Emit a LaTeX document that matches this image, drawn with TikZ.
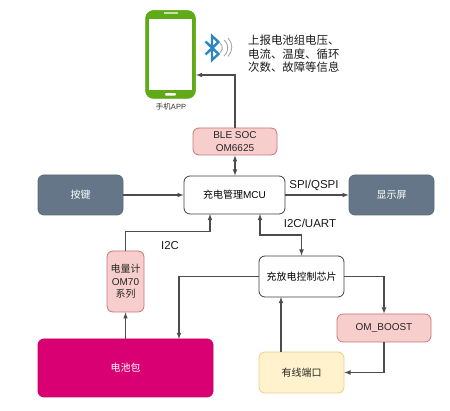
\documentclass[tikz,border=0pt]{standalone}
\usepackage{fontspec}
\setmainfont{Liberation Sans}
\newfontfamily\cjk{Noto Sans CJK SC}
\definecolor{slatefill}{HTML}{647687}
\definecolor{slateline}{HTML}{5A6B7B}
\definecolor{redfill}{HTML}{F8CECC}
\definecolor{redline}{HTML}{B85450}
\definecolor{batfill}{HTML}{D80073}
\definecolor{batline}{HTML}{C4006A}
\definecolor{yelfill}{HTML}{FFF2CC}
\definecolor{yelline}{HTML}{E6D08A}
\definecolor{phonegreen}{HTML}{60A917}
\definecolor{btblue}{HTML}{2E86C1}
\tikzset{
    block/.style={draw, rounded corners=6pt, line width=0.8pt, align=center, inner sep=0pt,
        font=\fontsize{10}{12.5}\selectfont},
    slateblock/.style={block, draw=slateline, fill=slatefill, text=white, minimum width=85pt, minimum height=40pt},
    mcublock/.style={block, draw=black!75, fill=white, minimum width=85pt, minimum height=40pt},
    redblock/.style={block, draw=redline!80, fill=redfill, text=black!85},
    flow/.style={draw=black!70, line width=1.1pt, >=latex},
    biglabel/.style={font=\fontsize{11.5}{13.5}\selectfont, text=black!90, inner sep=0pt}
}
\begin{document}
\begin{tikzpicture}[x=1pt, y=-1pt]
    \useasboundingbox (0,0) rectangle (450,411);

    % phone
    \node[draw=phonegreen, fill=phonegreen, rounded corners=8pt, line width=0.5pt, minimum width=50pt, minimum height=88pt, inner sep=0pt] (phone) at (170.5,54.5) {};
    \node[fill=white, minimum width=43pt, minimum height=71pt, inner sep=0pt] (screen) at (170,54.5) {};
    \node[fill=white, minimum width=11pt, minimum height=2.5pt, inner sep=0pt, rounded corners=1pt] (homekey) at (170.5,94.5) {};
    \node[fill=white!65!phonegreen, minimum width=14pt, minimum height=1.2pt, inner sep=0pt] (speaker) at (170.5,13) {};
    \node[font=\fontsize{7.5}{9}\selectfont, text=black!80, inner sep=0pt] (phonename) at (171,107) {{\cjk 手机}APP};

    % bluetooth mark
    \draw[btblue, line width=2.4pt, line join=miter] (205.5,41.5) -- (218.5,54) -- (212,60) -- (212,36) -- (218.5,42) -- (205.5,54.5);
    \draw[black!35, line width=0.9pt] (220,43) arc (-50:50:6.5);
    \draw[black!35, line width=0.9pt] (224,40) arc (-50:50:10.5);
    \draw[black!35, line width=0.9pt] (228,38) arc (-45:45:13);

    \node[biglabel, align=left, anchor=west, font=\cjk\fontsize{11.4}{13.6}\selectfont] (infotext) at (248,54) {上报电池组电压、\\电流、温度、循环\\次数、故障等信息};

    % blocks
    \node[redblock, minimum width=84pt, minimum height=27pt] (ble) at (235,141.5) {BLE SOC\\OM6625};
    \node[mcublock, minimum width=101pt, minimum height=38pt] (mcu) at (234.5,195) {{\cjk 充电管理}MCU};
    \node[slateblock] (keys) at (80.5,195) {\cjk 按键};
    \node[slateblock] (screenbox) at (391.5,195) {\cjk 显示屏};
    \node[mcublock, minimum height=41pt] (chip) at (301.5,276.5) {\cjk 充放电控制芯片};
    \node[redblock, minimum width=94pt, minimum height=28pt] (boost) at (384,328) {OM\_BOOST};
    \node[block, draw=yelline, fill=yelfill, text=black!85, minimum width=85pt, minimum height=41pt] (wired) at (301.5,372.5) {\cjk 有线端口};
    \node[redblock, minimum width=37pt, minimum height=61pt] (gauge) at (125.5,281.5) {{\cjk 电量计}\\OM70\\{\cjk 系列}};
    \node[block, draw=batline, fill=batfill, text=white, minimum width=175pt, minimum height=58pt] (battery) at (125.5,368) {\cjk 电池包};

    % connector ends
    \coordinate (phonein) at (196,75);
    \coordinate (gaugein) at (210,214);
    \coordinate (mcudown) at (260,214);
    \coordinate (batin) at (179,339);
    \coordinate (chipin) at (281,297);

    % connectors
    \draw[flow, ->] (ble.north) |- (phonein);
    \draw[flow, <->] (ble.south) -- (mcu.north -| ble.south);
    \draw[flow, ->] (keys) -- (mcu);
    \draw[flow, ->] (mcu) -- (screenbox);
    \draw[flow, ->] (gauge.north) -- ++(0,-19) -| (gaugein);
    \draw[flow, ->] (battery.north) -- (gauge.south);
    \draw[flow, <->] (mcudown) -- ++(0,21) -| (chip.north);
    \draw[flow, ->] (chip.west) -| (batin);
    \draw[flow, ->] (chip.east) -| (boost.north);
    \draw[flow, ->] (boost.south) |- (wired.east);
    \draw[flow, ->] (wired.north -| chipin) -- (chipin);

    % bus labels
    \node[biglabel] (i2c) at (170,246) {I2C};
    \node[biglabel] (spi) at (314,185) {SPI/QSPI};
    \node[biglabel] (uart) at (310,223) {I2C/UART};
\end{tikzpicture}
\end{document}
